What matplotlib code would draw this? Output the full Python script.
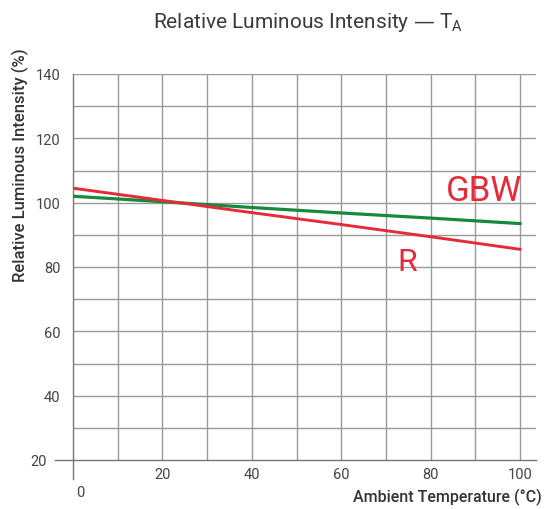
import matplotlib
matplotlib.use("Agg")
import matplotlib.pyplot as plt
import matplotlib.transforms as mtransforms

temps = [0, 20, 40, 60, 80, 100]
red_R = [104.5, 100.7, 96.9, 93.2, 89.4, 85.5]
green_GBW = [102.0, 100.3, 98.5, 96.8, 95.2, 93.5]
xticks = [20, 40, 60, 80, 100]
yticks = [20, 40, 60, 80, 100, 120, 140]

plt.rcParams['font.family'] = ['Roboto', 'DejaVu Sans']

fig = plt.figure(figsize=(5.44, 5.10), dpi=100)
ax = fig.add_axes([73/544, 1-461/510, (536-73)/544, (461-75)/510])
ax.set_xlim(0, (536-73)/4.47)
ax.set_ylim(20, 140)

grid_c = '#9a9a9a'
for x in range(10, 101, 10):
    ax.axvline(x, color=grid_c, lw=1.0, zorder=1)
for y in range(30, 141, 10):
    ax.axhline(y, color=grid_c, lw=1.0, zorder=1)

for s in ['top', 'right']:
    ax.spines[s].set_visible(False)
for s in ['left', 'bottom']:
    ax.spines[s].set_color('#777777')
    ax.spines[s].set_linewidth(1.0)

# extended axis lines beyond origin
ax.plot([-4, 0], [20, 20], color='#777777', lw=1.0, clip_on=False)
ax.plot([0, 0], [20, 14.1], color='#777777', lw=1.0, clip_on=False)

ax.plot(temps, green_GBW, color='#168a3c', lw=2.3, zorder=3)
ax.plot(temps, red_R, color='#e62b38', lw=2.1, zorder=4)

ax.text(92, 103.8, 'GBW', color='#e62b38', fontsize=25, ha='center', va='center')
ax.text(74.7, 81.8, 'R', color='#e62b38', fontsize=23, ha='center', va='center')

ax.set_xticks(xticks)
ax.set_yticks(yticks)
ax.tick_params(axis='both', length=0, labelsize=10.5, labelcolor='#444444')
ax.tick_params(axis='x', pad=5)
ax.tick_params(axis='y', pad=9)
fig.canvas.draw()
lbl20 = ax.get_yticklabels()[0]
lbl20.set_transform(lbl20.get_transform() + mtransforms.ScaledTranslation(-14/100, 0, fig.dpi_scale_trans))
ax.text(1.6, 10.1, '0', fontsize=10.5, color='#444444', ha='center', va='center')

fig.text(0.995, 1-497/510, 'Ambient Temperature (°C)', ha='right', va='center',
         fontsize=11.5, fontweight='medium', color='#333333')
fig.text(20/544, 1-165/510, 'Relative Luminous Intensity (%)', rotation=90,
         ha='center', va='center', fontsize=12, fontweight='medium', color='#333333')
fig.text(308/544, 1-22/510, 'Relative Luminous Intensity — T$_\\mathregular{A}$',
         ha='center', va='center', fontsize=15, color='#3a3a3a')

fig.savefig('out.png', dpi=100)
